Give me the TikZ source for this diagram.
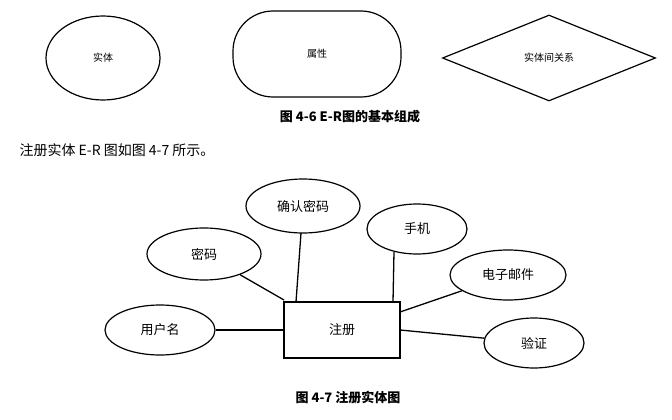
\documentclass[tikz,border=0pt]{standalone}
\usepackage{fontspec}
\setmainfont{Noto Sans CJK SC}
\usetikzlibrary{shapes.geometric}
\begin{document}
\begin{tikzpicture}[x=1pt,y=-1pt,
  ell/.style={draw,line width=1.2pt,ellipse,font=\fontsize{13}{15}\selectfont},
  conn/.style={line width=1.3pt},
  captext/.style={font=\bfseries\fontsize{13}{15}\selectfont}]
\useasboundingbox (0,0) rectangle (672,420);
\node[ell,minimum width=114pt,minimum height=84pt,font=\fontsize{10}{12}\selectfont] (shiti) at (103,58) {实体};
\node[draw,line width=1.2pt,rounded corners=40pt,minimum width=168pt,minimum height=86pt,font=\fontsize{10}{12}\selectfont] (shuxing) at (317,54) {属性};
\node[draw,line width=1.2pt,diamond,aspect=2.48,minimum width=213pt,minimum height=86pt,inner sep=0pt] (guanxi) at (549,58) {};
\node[font=\fontsize{10}{12}\selectfont] (gtext) at (549,58) {实体间关系};
\node[captext] (cap1) at (350,117) {图 4-6 E-R图的基本组成};
\node[anchor=west,font=\fontsize{14}{16}\selectfont] (para) at (16,150) {注册实体 E-R 图如图 4-7 所示。};
\node[draw,line width=1.3pt,minimum width=116pt,minimum height=56pt,font=\fontsize{13}{15}\selectfont] (zc) at (342,330) {注册};
\node[ell,minimum width=114pt,minimum height=52pt] (mm) at (204,254) {密码};
\node[ell,minimum width=114pt,minimum height=54pt] (qr) at (303,206) {确认密码};
\node[ell,minimum width=100pt,minimum height=50pt] (sj) at (417,229) {手机};
\node[ell,minimum width=116pt,minimum height=50pt] (dz) at (508,275) {电子邮件};
\node[ell,minimum width=110pt,minimum height=50pt] (yh) at (160,330) {用户名};
\node[ell,minimum width=100pt,minimum height=50pt] (yz) at (534,343) {验证};
\coordinate (a1) at (284,300);
\coordinate (a2) at (296,302);
\coordinate (a3) at (393,302);
\coordinate (a4) at (400,312);
\coordinate (a5) at (284,330);
\coordinate (a6) at (400,330);
\coordinate (q1) at (301,233);
\coordinate (s1) at (394,252);
\draw[conn] (mm) -- (a1);
\draw[conn] (q1) -- (a2);
\draw[conn] (s1) -- (a3);
\draw[conn] (dz) -- (a4);
\draw[conn] (yh) -- (a5);
\draw[conn] (yz) -- (a6);
\node[captext] (cap2) at (348,398) {图 4-7 注册实体图};
\end{tikzpicture}
\end{document}
